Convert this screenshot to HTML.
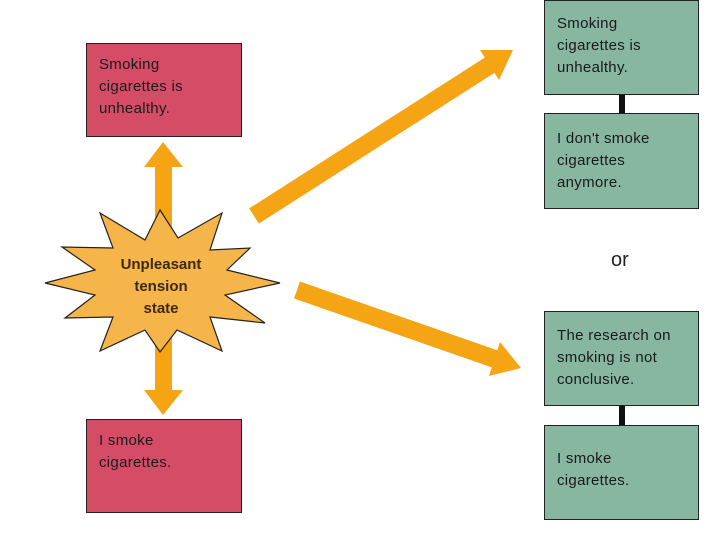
<!DOCTYPE html>
<html><head><meta charset="utf-8"><style>
html,body{margin:0;padding:0;background:#fff;}
body{width:720px;height:540px;position:relative;overflow:hidden;font-family:"Liberation Sans",sans-serif;}
.b{position:absolute;box-sizing:border-box;border:1.5px solid #222;font-size:15px;line-height:22px;color:#1a1a1a;padding:10px 0 0 12px;letter-spacing:0.3px;}
.r{background:#d44c66;}
.g{background:#87b6a1;}
</style></head><body>
<svg width="720" height="540" style="position:absolute;left:0;top:0">
<g fill="#f5a514">
<rect x="155" y="165" width="17" height="228"/>
<polygon points="163,142 183,167 144,167"/>
<polygon points="163,415 183,390 144,390"/>
<line x1="254" y1="216" x2="490" y2="65" stroke="#f5a514" stroke-width="18"/>
<polygon points="513,50 499,80 480,50"/>
<line x1="297" y1="290" x2="495" y2="359" stroke="#f5a514" stroke-width="18"/>
<polygon points="521,368 489,376 500,342"/>
</g>
<polygon fill="#f6b54a" stroke="#222" stroke-width="1.2" points="160,210 178,238 222,213 210,250 250,248 227,270 280,283 225,295 265,323 210,317 222,351 177,330 160,352 145,330 100,351 113,317 65,318 95,295 45,283 95,270 62,247 113,248 100,213 145,240"/>
<g font-family="Liberation Sans, sans-serif" font-size="15" font-weight="bold" fill="#3a2a10" text-anchor="middle">
<text x="161" y="269">Unpleasant</text>
<text x="161" y="291">tension</text>
<text x="161" y="313">state</text>
</g>
<rect x="619" y="95" width="6" height="18" fill="#111"/>
<rect x="619" y="406" width="6" height="19" fill="#111"/>
</svg>
<div class="b r" style="left:86px;top:43px;width:156px;height:94px;">Smoking<br>cigarettes is<br>unhealthy.</div>
<div class="b r" style="left:86px;top:419px;width:156px;height:94px;">I smoke<br>cigarettes.</div>
<div class="b g" style="left:544px;top:0px;width:155px;height:95px;padding-top:12px;">Smoking<br>cigarettes is<br>unhealthy.</div>
<div class="b g" style="left:544px;top:113px;width:155px;height:96px;padding-top:14px;">I don't smoke<br>cigarettes<br>anymore.</div>
<div style="position:absolute;left:611px;top:249px;font-size:20px;color:#222;">or</div>
<div class="b g" style="left:544px;top:311px;width:155px;height:95px;padding-top:13px;">The research on<br>smoking is not<br>conclusive.</div>
<div class="b g" style="left:544px;top:425px;width:155px;height:95px;padding-top:22px;">I smoke<br>cigarettes.</div>
</body></html>
